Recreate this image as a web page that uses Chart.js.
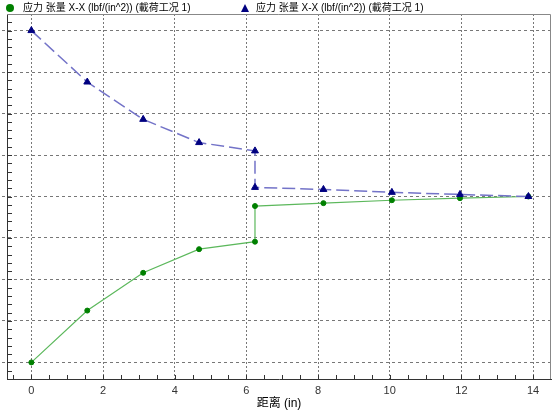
<!DOCTYPE html>
<html>
<head>
<meta charset="utf-8">
<script src="https://cdn.jsdelivr.net/npm/chart.js@4"></script>
<style>
  body { margin: 0; background: #fff; }
  #wrap { position: relative; width: 558px; height: 411px; }
  #legend { position: absolute; left: 0; top: 0; width: 558px; height: 16px;
    font: 10px "Liberation Sans", "Noto Sans CJK SC", sans-serif; color: #000; }
  .item { position: absolute; top: 1px; white-space: nowrap; line-height: 14px; }
  .dot { position: absolute; width: 8px; height: 8px; border-radius: 50%; background: #008000; }
  .tri { position: absolute; width: 0; height: 0; border-left: 4px solid transparent;
    border-right: 4px solid transparent; border-bottom: 8px solid #000080; }
</style>
</head>
<body>
<div id="wrap">
  <canvas id="grafico" width="558" height="411"></canvas>
  <div id="legend">
    <span class="dot" style="left:6px;top:4px"></span>
    <span class="item" style="left:23px">应力 张量 X-X (lbf/(in^2)) (載荷工况 1)</span>
    <span class="tri" style="left:241px;top:4px"></span>
    <span class="item" style="left:256px">应力 张量 X-X (lbf/(in^2)) (載荷工况 1)</span>
  </div>
</div>
<script>
// distancia a lo largo de la viga (in)
const distancia = [0, 1.56, 3.12, 4.68, 6.24, 6.24, 8.15, 10.06, 11.96, 13.87];
// valores (unidades de una division mayor)
const serieVerde = [0, 1.25, 2.16, 2.73, 2.91, 3.77, 3.84, 3.91, 3.96, 4.0];
const serieAzul = [8.0, 6.76, 5.86, 5.30, 5.10, 4.22, 4.17, 4.10, 4.05, 4.0];
const etiquetasX = [0, 2, 4, 6, 8, 10, 12, 14];
const tituloX = '距离 (in)';
const leyenda = '应力 张量 X-X (lbf/(in^2)) (載荷工况 1)';

const esEntero = v => Math.abs(v - Math.round(v)) < 1e-6;
const esMayorX = v => esEntero(v / 2) && etiquetasX.includes(Math.round(v));

const puntos = (ys) => distancia.map((x, i) => ({x: x, y: ys[i]}));

Chart.defaults.font.family = '"Liberation Sans", "Noto Sans CJK SC", sans-serif';
Chart.defaults.font.size = 11;

// marcas pequeñas hacia adentro + marco superior/derecho
const marcas = {
  id: 'marcas',
  beforeDatasetsDraw(chart) {
    const c = chart.ctx;
    const a = chart.chartArea;
    const sx = chart.scales.x, sy = chart.scales.y;
    c.save();
    c.strokeStyle = '#333';
    c.lineWidth = 1;
    c.beginPath();
    sx.ticks.forEach(t => {
      const px = Math.round(sx.getPixelForValue(t.value)) + 0.5;
      if (px < a.left + 2 || px > a.right - 2) return;
      c.moveTo(px, a.bottom);
      c.lineTo(px, a.bottom - 4);
    });
    sy.ticks.forEach(t => {
      const py = Math.round(sy.getPixelForValue(t.value)) + 0.5;
      if (py < a.top + 2 || py > a.bottom - 2) return;
      c.moveTo(a.left, py);
      c.lineTo(a.left + 5, py);
    });
    c.stroke();
    c.strokeStyle = '#888';
    c.beginPath();
    c.moveTo(a.left, a.top + 0.5);
    c.lineTo(a.right - 0.5, a.top + 0.5);
    c.lineTo(a.right - 0.5, a.bottom);
    c.stroke();
    c.restore();
  }
};

const ctx = document.getElementById('grafico').getContext('2d');
const myChart = new Chart(ctx, {
  type: 'scatter',
  data: {
    datasets: [{
      label: leyenda,
      data: puntos(serieAzul),
      showLine: true,
      borderColor: '#7373c8',
      borderWidth: 1.5,
      borderDash: [13, 5],
      pointStyle: 'triangle',
      pointRadius: 4,
      pointBackgroundColor: '#000080',
      pointBorderColor: '#000080',
      pointBorderWidth: 1
    }, {
      label: leyenda,
      data: puntos(serieVerde),
      showLine: true,
      borderColor: '#5cb85c',
      borderWidth: 1.2,
      pointStyle: 'circle',
      pointRadius: 2.5,
      pointBackgroundColor: '#008000',
      pointBorderColor: '#008000',
      pointBorderWidth: 1
    }]
  },
  options: {
    responsive: false,
    animation: false,
    layout: { padding: { left: 2, top: 14, right: 7, bottom: 0 } },
    plugins: {
      legend: { display: false },
      tooltip: { enabled: false }
    },
    scales: {
      x: {
        type: 'linear',
        min: -0.68,
        max: 14.5,
        afterFit: (s) => { s.height = 32; },
        ticks: {
          stepSize: 0.5,
          includeBounds: false,
          autoSkip: false,
          maxRotation: 0,
          padding: 5,
          color: '#333',
          callback: (v) => esMayorX(v) ? String(Math.round(v)) : ''
        },
        grid: {
          drawTicks: false,
          color: (c) => (c.tick && esMayorX(c.tick.value)) ? '#777' : 'rgba(0,0,0,0)',
          lineWidth: 1
        },
        border: { display: true, color: '#333', width: 1, dash: [2, 2] },
        title: {
          display: true,
          text: tituloX,
          color: '#000',
          font: { size: 12 },
          padding: { top: 0, bottom: 0 }
        }
      },
      y: {
        type: 'linear',
        min: -0.4,
        max: 8.4,
        afterFit: (s) => { s.width = 5; },
        ticks: {
          stepSize: 0.2,
          includeBounds: false,
          display: false
        },
        grid: {
          drawTicks: true,
          tickLength: 5,
          color: (c) => (c.tick && esEntero(c.tick.value)) ? '#777' : 'rgba(0,0,0,0)',
          tickBorderDash: [3, 3],
          lineWidth: 1
        },
        border: { display: true, color: '#333', width: 1, dash: [3, 3] }
      }
    }
  },
  plugins: [marcas]
});
</script>
</body>
</html>
